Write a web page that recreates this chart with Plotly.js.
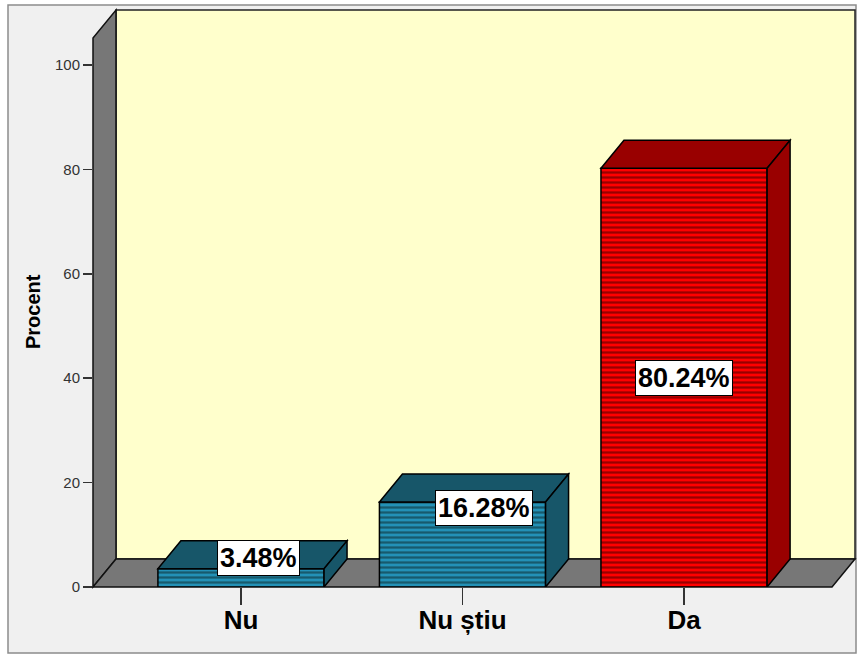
<!DOCTYPE html>
<html><head><meta charset="utf-8">
<script src="https://cdn.plot.ly/plotly-3.0.1.min.js"></script>
<style>html,body{margin:0;padding:0;background:#fff}#chart{width:861px;height:655px}</style>
</head><body><div id="chart"></div>
<script>
// ---- data ----
const categories = ['Nu', 'Nu știu', 'Da'];
const percents = [3.48, 16.28, 80.24];
const yTickValues = [0, 20, 40, 60, 80, 100];
const yAxisTitle = 'Procent';

// ---- style ----
const frontLight = ['#2391b6', '#2391b6', '#ff0000'];
const frontDark  = ['#175a6d', '#175a6d', '#990000'];
const faceColor  = ['#175669', '#175669', '#990000'];
const labelShiftX = [18, 21, 0];
const labelShiftY = [20, 37, 0];
const FONT = '"Liberation Sans", Arial, sans-serif';
const BAR_W = 0.75;
const XPAD = 0.668;      // floor margin around first/last category (category units)
const DX = 0.1038;       // depth offset, category units
const DY = 5.36;         // depth offset, value units
const YTOP = 105.2;      // front top of the left wall

const xr = [-XPAD, categories.length - 1 + XPAD + DX];
const yr = [0, YTOP + DY];
const xp = v => (v - xr[0]) / (xr[1] - xr[0]);   // data -> paper
const yp = v => (v - yr[0]) / (yr[1] - yr[0]);
const L = 93, R = 6, T = 10, B = 68, Wd = 861, Ht = 655;
const pw = Wd - L - R, ph = Ht - T - B;
const pxX = px => (px - L) / pw;   // figure pixel -> paper
const pxY = py => (Ht - B - py) / ph;

function pathP(pts) { // data points -> paper path
  return 'M' + pts.map(p => xp(p[0]) + ',' + yp(p[1])).join('L') + 'Z';
}
function pathD(pts) {
  return 'M' + pts.map(p => p[0] + ',' + p[1]).join('L') + 'Z';
}

const shapes = [];
// outer frame
shapes.push({type:'rect', xref:'paper', yref:'paper', layer:'below',
  x0:pxX(8), x1:pxX(856), y0:pxY(653), y1:pxY(5),
  fillcolor:'#f0f0f0', line:{color:'#8c8c8c', width:1.5}});
const xL = -XPAD, xRf = categories.length - 1 + XPAD;
// back wall
shapes.push({type:'path', xref:'paper', yref:'paper', layer:'below',
  path: pathP([[xL+DX, DY],[xRf+DX, DY],[xRf+DX, YTOP+DY],[xL+DX, YTOP+DY]]),
  fillcolor:'#ffffcc', line:{color:'#222', width:1.5}});
// left wall
shapes.push({type:'path', xref:'paper', yref:'paper', layer:'below',
  path: pathP([[xL, 0],[xL, YTOP],[xL+DX, YTOP+DY],[xL+DX, DY]]),
  fillcolor:'#777777', line:{color:'#111', width:1.5}});
// floor
shapes.push({type:'path', xref:'paper', yref:'paper', layer:'below',
  path: pathP([[xL, 0],[xRf, 0],[xRf+DX, DY],[xL+DX, DY]]),
  fillcolor:'#777777', line:{color:'#111', width:1.5}});

const traces = [];
const annotations = [];
categories.forEach((c, i) => {
  const v = percents[i];
  const x0 = i - BAR_W/2, x1 = i + BAR_W/2;
  traces.push({type:'bar', x:[i], y:[v], width:BAR_W, name:c, hoverinfo:'x+y',
    marker:{color:frontLight[i], line:{color:'#000', width:1.5},
      pattern:{shape:'-', fillmode:'overlay', bgcolor:frontLight[i], fgcolor:frontDark[i],
               size:5, solidity:0.45, fgopacity:1}}});
  // top face
  shapes.push({type:'path', xref:'x', yref:'y', layer:'above',
    path: pathD([[x0, v],[x0+DX, v+DY],[x1+DX, v+DY],[x1, v]]),
    fillcolor:faceColor[i], line:{color:'#000', width:1.5}});
  // side face
  shapes.push({type:'path', xref:'x', yref:'y', layer:'above',
    path: pathD([[x1, 0],[x1, v],[x1+DX, v+DY],[x1+DX, DY]]),
    fillcolor:faceColor[i], line:{color:'#000', width:1.5}});
  annotations.push({x:i, y:v/2, xref:'x', yref:'y', text:v.toFixed(2)+'%', showarrow:false,
    xshift:labelShiftX[i], yshift:labelShiftY[i],
    font:{family:FONT, size:27, color:'#000', weight:'bold'},
    bgcolor:'#ffffff', bordercolor:'#000', borderwidth:1, borderpad:2});
});
annotations.push({xref:'paper', yref:'paper', x:pxX(33), y:pxY(312), text:yAxisTitle,
  textangle:-90, showarrow:false, xanchor:'center', yanchor:'middle',
  font:{family:FONT, size:20, color:'#000', weight:'bold'}});

const layout = {
  width:Wd, height:Ht, margin:{l:L, r:R, t:T, b:B, pad:0},
  paper_bgcolor:'#ffffff', plot_bgcolor:'rgba(0,0,0,0)',
  showlegend:false, barmode:'overlay',
  xaxis:{type:'linear', range:xr, tickvals:categories.map((c,i)=>i), ticktext:categories,
    ticks:'outside', ticklen:17, tickwidth:1.5, tickcolor:'#333', showgrid:false, zeroline:false,
    showline:false, fixedrange:true, ticklabelstandoff:-7,
    tickfont:{family:FONT, size:26, color:'#000', weight:'bold'}},
  yaxis:{range:yr, tickvals:yTickValues, ticks:'outside', ticklen:9, tickwidth:1.5, tickcolor:'#333',
    showgrid:false, zeroline:false, showline:false, fixedrange:true,
    tickfont:{family:FONT, size:15, color:'#333'}},
  shapes:shapes, annotations:annotations
};
Plotly.newPlot('chart', traces, layout, {displayModeBar:false, staticPlot:true});
</script></body></html>
